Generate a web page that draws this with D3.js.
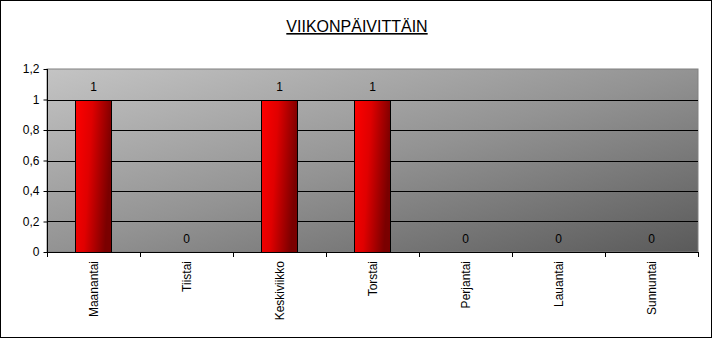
<!DOCTYPE html>
<html>
<head>
<meta charset="utf-8">
<script src="https://cdn.jsdelivr.net/npm/d3@7"></script>
<style>
  body { margin: 0; background: #fff; }
  text { font-family: "Liberation Sans", Arial, sans-serif; }
</style>
</head>
<body>
<svg id="chart" width="714" height="340"></svg>
<script>
// data
const days = ["Maanantai", "Tiistai", "Keskiviikko", "Torstai", "Perjantai", "Lauantai", "Sunnuntai"];
const counts = [1, 0, 1, 1, 0, 0, 0];
const yTicks = [0, 0.2, 0.4, 0.6, 0.8, 1, 1.2];
const title = "VIIKONPÄIVITTÄIN";

const svg = d3.select("#chart");
const plotLeft = 47, plotRight = 698, plotTop = 69, plotBottom = 252;

// outer frame
svg.append("rect")
    .attr("x", 0.5).attr("y", 0.5)
    .attr("width", 711).attr("height", 337)
    .attr("fill", "#fff").attr("stroke", "#000");

let defs = svg.append("defs");
let bg = defs.append("linearGradient").attr("id", "bg")
    .attr("x1", 0).attr("y1", 0).attr("x2", 1).attr("y2", 1);
bg.append("stop").attr("offset", "0%").attr("stop-color", "#c4c4c4");
bg.append("stop").attr("offset", "50%").attr("stop-color", "#939393");
bg.append("stop").attr("offset", "100%").attr("stop-color", "#5a5a5a");

let barGrad = defs.append("linearGradient").attr("id", "barGrad")
    .attr("x1", 0).attr("y1", 0).attr("x2", 1).attr("y2", 0.25);
barGrad.append("stop").attr("offset", "0%").attr("stop-color", "#ff0000");
barGrad.append("stop").attr("offset", "45%").attr("stop-color", "#e00000");
barGrad.append("stop").attr("offset", "100%").attr("stop-color", "#7a0000");

let x = d3.scaleBand()
    .domain(days)
    .range([plotLeft, plotRight])
    .paddingInner(0.61)
    .paddingOuter(0.305);

let y = d3.scaleLinear()
    .domain([0, 1.2])
    .range([plotBottom, plotTop]);

// plot area
svg.append("rect")
    .attr("x", plotLeft).attr("y", plotTop)
    .attr("width", plotRight - plotLeft).attr("height", plotBottom - plotTop)
    .attr("fill", "url(#bg)")
    .attr("stroke", "#808080");

// gridlines
svg.append("g")
    .selectAll("line")
    .data(yTicks.filter(d => d > 0 && d < 1.2))
    .join("line")
    .attr("x1", plotLeft).attr("x2", plotRight)
    .attr("y1", d => Math.round(y(d)) + 0.5)
    .attr("y2", d => Math.round(y(d)) + 0.5)
    .attr("stroke", "#000");

// bars
svg.append("g")
    .selectAll("rect")
    .data(days.filter((d, i) => counts[i] > 0))
    .join("rect")
    .attr("x", d => Math.round(x(d)) + 0.5)
    .attr("y", d => Math.round(y(counts[days.indexOf(d)])) + 0.5)
    .attr("width", Math.round(x.bandwidth()))
    .attr("height", d => Math.round(y(0)) - Math.round(y(counts[days.indexOf(d)])))
    .attr("fill", "url(#barGrad)")
    .attr("stroke", "#000");

// value labels
svg.append("g")
    .selectAll("text")
    .data(days)
    .join("text")
    .attr("x", d => x(d) + x.bandwidth() / 2)
    .attr("y", (d, i) => y(counts[i]) - 9)
    .attr("text-anchor", "middle")
    .attr("font-size", 12)
    .text((d, i) => counts[i]);

// y axis
let yAxis = svg.append("g")
    .attr("transform", "translate(" + (plotLeft + 0.5) + ",0)")
    .call(d3.axisLeft(y).tickValues(yTicks).tickSize(4).tickPadding(4)
        .tickFormat(d => String(d).replace(".", ",")));
yAxis.select("path").attr("d", "M0," + plotTop + "V" + (plotBottom + 0.5));
yAxis.selectAll("line").attr("stroke", "#000");
yAxis.selectAll("text")
    .attr("font-size", 12)
    .attr("font-family", "Liberation Sans, Arial, sans-serif")
    .attr("fill", "#000");

// x axis: ticks on category boundaries
let xAxisG = svg.append("g");
xAxisG.append("line")
    .attr("x1", plotLeft).attr("x2", plotRight + 1)
    .attr("y1", plotBottom + 0.5).attr("y2", plotBottom + 0.5)
    .attr("stroke", "#000");
let bounds = days.map(d => x(d) - x.step() * x.paddingInner() / 2).concat([plotRight]);
xAxisG.selectAll("line.tick")
    .data(bounds)
    .join("line")
    .attr("class", "tick")
    .attr("x1", d => Math.round(d) + 0.5).attr("x2", d => Math.round(d) + 0.5)
    .attr("y1", plotBottom).attr("y2", plotBottom + 5)
    .attr("stroke", "#000");
xAxisG.selectAll("text")
    .data(days)
    .join("text")
    .attr("transform", d => "translate(" + (x(d) + x.bandwidth() / 2 + 4) + "," + (plotBottom + 9) + ") rotate(-90)")
    .attr("text-anchor", "end")
    .attr("font-size", 12)
    .text(d => d);

// title
svg.append("text")
    .attr("x", 357).attr("y", 32)
    .attr("text-anchor", "middle")
    .attr("font-size", 16)
    .attr("text-decoration", "underline")
    .text(title);
</script>
</body>
</html>
